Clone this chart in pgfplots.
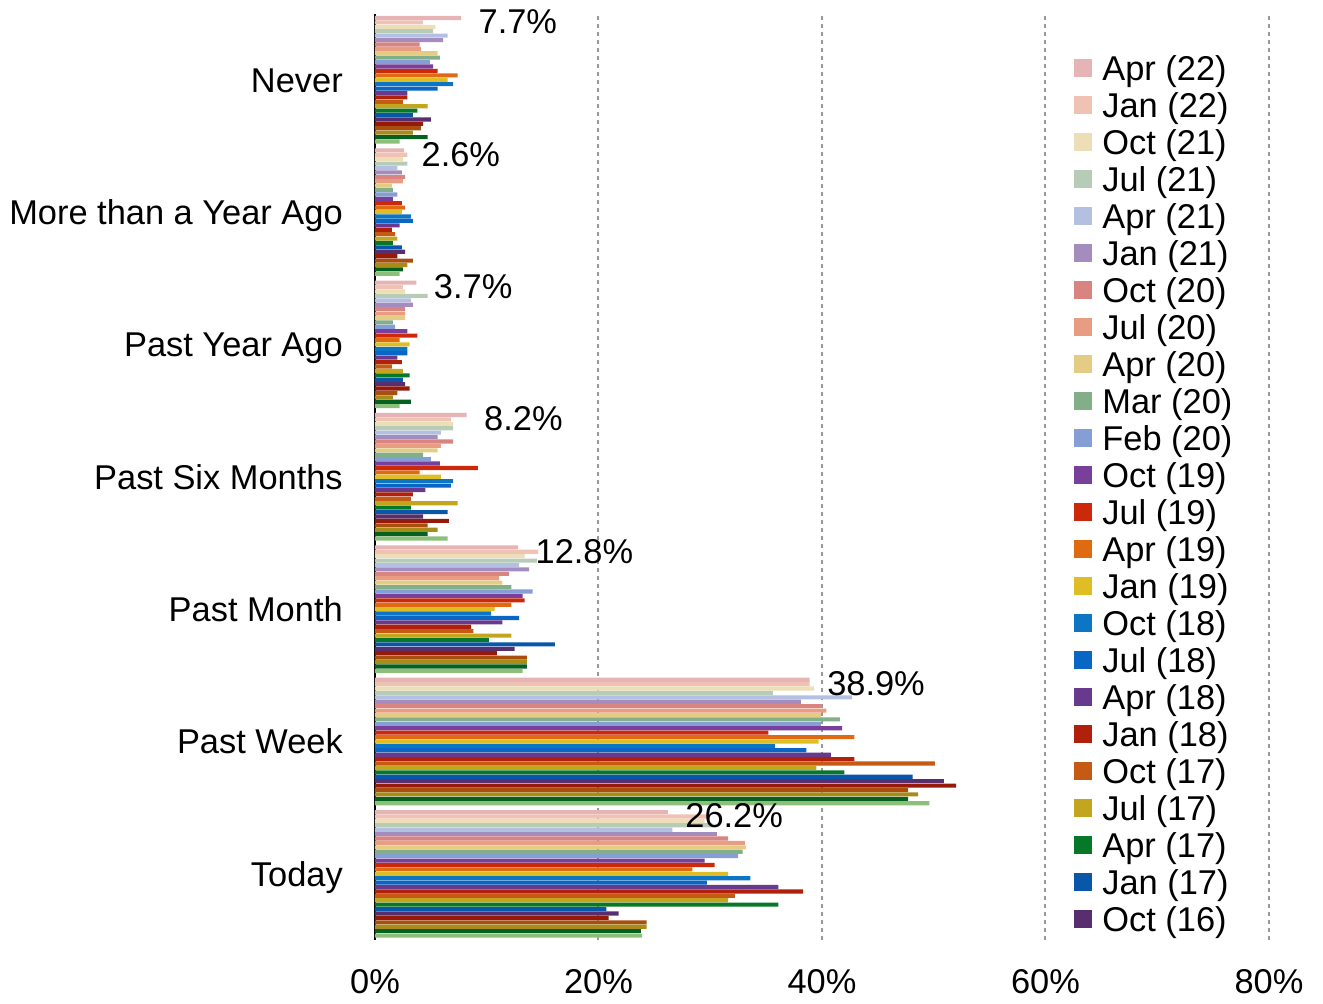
\documentclass[border=0pt]{standalone}
\usepackage{fontspec}
\setmainfont{Liberation Sans}
\usepackage{pgfplots}
\usepackage{pgfplotstable}
\pgfplotsset{compat=1.18}
\newcommand\ff{\fontsize{17.2}{20}\selectfont}
\definecolor{c1}{RGB}{230,180,180}
\definecolor{c2}{RGB}{240,194,180}
\definecolor{c3}{RGB}{238,222,184}
\definecolor{c4}{RGB}{182,204,183}
\definecolor{c5}{RGB}{180,192,226}
\definecolor{c6}{RGB}{164,141,190}
\definecolor{c7}{RGB}{216,132,128}
\definecolor{c8}{RGB}{232,156,130}
\definecolor{c9}{RGB}{228,204,132}
\definecolor{c10}{RGB}{130,174,136}
\definecolor{c11}{RGB}{134,158,214}
\definecolor{c12}{RGB}{122,63,154}
\definecolor{c13}{RGB}{204,40,10}
\definecolor{c14}{RGB}{224,106,18}
\definecolor{c15}{RGB}{222,190,36}
\definecolor{c16}{RGB}{12,118,196}
\definecolor{c17}{RGB}{10,102,196}
\definecolor{c18}{RGB}{104,58,142}
\definecolor{c19}{RGB}{176,32,10}
\definecolor{c20}{RGB}{196,90,20}
\definecolor{c21}{RGB}{196,165,32}
\definecolor{c22}{RGB}{6,120,40}
\definecolor{c23}{RGB}{8,87,168}
\definecolor{c24}{RGB}{88,46,110}
\definecolor{c25}{RGB}{150,26,10}
\definecolor{c26}{RGB}{168,78,14}
\definecolor{c27}{RGB}{168,140,26}
\definecolor{c28}{RGB}{6,96,32}
\definecolor{c29}{RGB}{140,192,122}
% rows: categories (6 = Never at top ... 0 = Today at bottom); columns: series
\pgfplotstableread{
cat s1 s2 s3 s4 s5 s6 s7 s8 s9 s10 s11 s12 s13 s14 s15 s16 s17 s18 s19 s20 s21 s22 s23 s24 s25 s26 s27 s28 s29
6 7.7 4.3 5.4 5.2 6.5 6.1 4.0 4.1 5.6 5.8 4.9 5.2 5.6 7.4 6.5 7.0 5.6 2.9 2.9 2.5 4.7 3.8 3.4 5.0 4.3 4.1 3.4 4.7 2.2
5 2.6 2.9 2.5 2.9 2.0 2.4 2.7 2.5 1.5 1.6 2.0 1.6 2.4 2.7 2.4 3.2 3.4 2.2 1.5 1.8 2.0 1.6 2.4 2.7 2.0 3.4 2.9 2.5 2.2
4 3.7 2.5 2.7 4.7 3.2 3.4 2.7 2.7 2.7 1.6 1.8 2.9 3.8 2.2 3.1 2.9 2.9 2.0 2.4 1.5 2.5 3.1 2.5 2.7 3.1 2.0 1.6 3.2 2.2
3 8.2 6.8 7.0 7.0 5.9 5.6 7.0 5.9 5.6 4.3 5.0 5.8 9.2 4.0 5.9 7.0 6.8 4.5 3.4 3.2 7.4 3.2 6.5 4.3 6.6 4.7 5.6 4.7 6.5
2 12.8 14.6 13.4 14.5 12.9 13.8 12.0 11.1 11.4 12.2 14.1 13.2 13.4 12.2 10.7 10.4 12.9 11.4 8.6 8.8 12.2 10.2 16.1 12.5 10.9 13.6 13.6 13.6 13.2
1 38.9 38.9 39.3 35.6 42.7 38.1 40.0 40.4 39.9 41.6 39.9 41.8 35.2 42.9 39.7 35.8 38.6 40.8 42.9 50.1 39.5 42.0 48.1 50.9 52.0 47.7 48.6 47.7 49.6
0 26.2 29.7 29.5 30.2 26.6 30.6 31.6 33.1 33.2 32.9 32.5 29.5 30.4 28.4 31.6 33.6 29.7 36.1 38.3 32.2 31.6 36.1 20.7 21.8 20.9 24.3 24.3 23.8 23.9
}\datatable
\begin{document}
\begin{tikzpicture}
\path[use as bounding box] (-187.5pt,-32pt) rectangle (474pt,470pt);
\begin{axis}[
  at={(0pt,0pt)}, anchor=south west,
  scale only axis, width=447pt, height=463.2pt,
  xmin=0, xmax=80, ymin=-0.5, ymax=6.5,
  xbar, bar width=0.031,
  legend image code/.code={\draw[#1,draw=none] (0pt,-4.5pt) rectangle (9pt,4.5pt);},
  axis x line*=bottom, axis y line*=left,
  x axis line style={draw=none},
  y axis line style={-, black, line width=1pt},
  xtick={0,20,40,60,80},
  xticklabels={0\%,20\%,40\%,60\%,80\%},
  ytick={0,1,2,3,4,5,6},
  yticklabels={Today,Past Week,Past Month,Past Six Months,Past Year Ago,More than a Year Ago,Never},
  major tick length=0pt,
  tick label style={font=\ff},
  xticklabel style={text height=12.3pt, text depth=0pt, yshift=-10.9pt},
  yticklabel style={text height=12.3pt, text depth=0pt, xshift=-12.6pt},
  xmajorgrids,
  grid style={dash pattern=on 2pt off 2pt, color=black!40, line width=1pt},
  legend entries={Apr (22),Jan (22),Oct (21),Jul (21),Apr (21),Jan (21),Oct (20),Jul (20),Apr (20),Mar (20),Feb (20),Oct (19),Jul (19),Apr (19),Jan (19),Oct (18),Jul (18),Apr (18),Jan (18),Oct (17),Jul (17),Apr (17),Jan (17),Oct (16)},
  legend cell align=left,
  legend style={draw=none, fill=none, at={(0.7819,0.9617)}, anchor=north west,
    inner sep=0pt, row sep=0pt, column sep=5pt, font=\ff,
    nodes={inner sep=0pt, text height=15.35pt, text depth=3.15pt}},
]
\pgfplotsinvokeforeach{1,...,29}{
  \addplot[bar shift=0pt, draw=none, fill=c#1] table[x=s#1, y expr={\thisrow{cat}-(#1-15)*0.03333}] {\datatable};
}
\addplot[forget plot, bar shift=0pt, draw=none, fill=none, point meta=x,
  nodes near coords={\pgfmathprintnumber[fixed,fixed zerofill,precision=1,assume math mode=true]{\pgfplotspointmeta}\%},
  nodes near coords style={anchor=west, font=\ff, text=black, inner sep=0pt, xshift=8.6pt, yshift=-1.8pt, text height=12.3pt, text depth=0pt}]
  table[x=s1, y expr={\thisrow{cat}+14*0.03333}] {\datatable};
\end{axis}
\end{tikzpicture}
\end{document}
